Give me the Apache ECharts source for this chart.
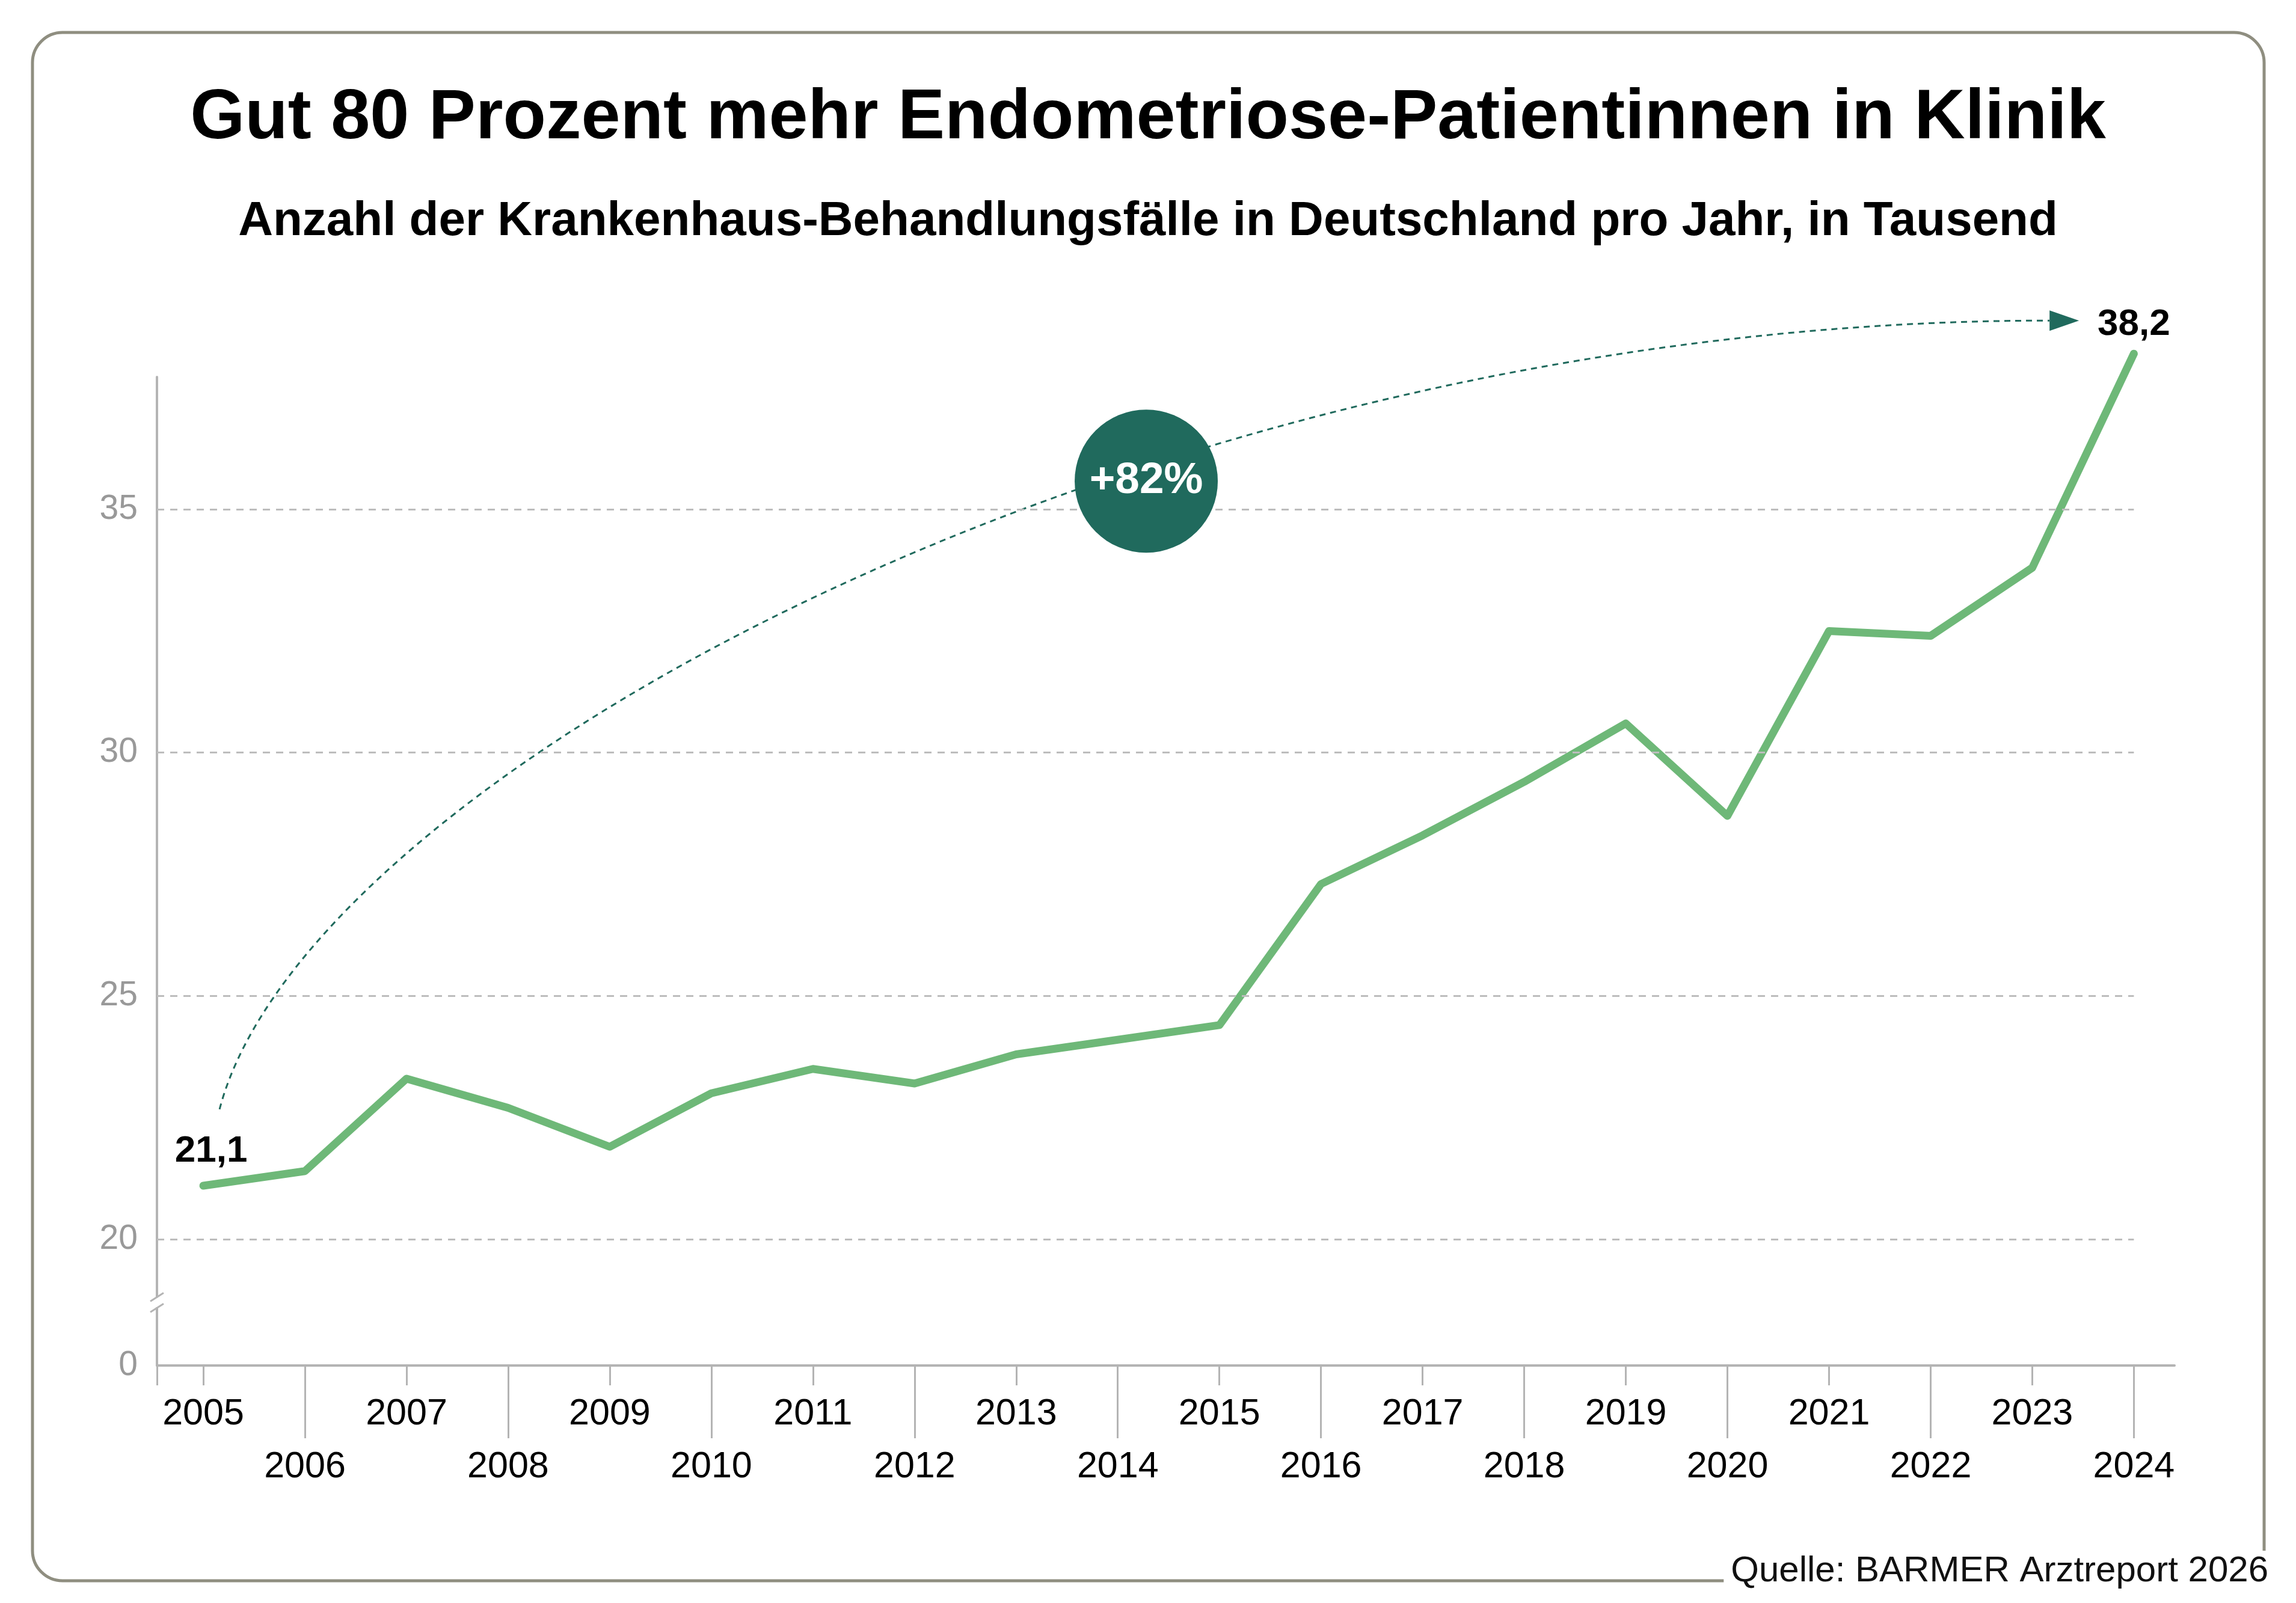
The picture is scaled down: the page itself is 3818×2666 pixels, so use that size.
<!DOCTYPE html>
<html>
<head>
<meta charset="utf-8">
<title>Endometriose-Patientinnen in Klinik</title>
<script src="https://cdn.jsdelivr.net/npm/echarts@6.0.0/dist/echarts.min.js"></script>
<style>
html, body { margin: 0; padding: 0; background: #fff; }
#chart { width: 3818px; height: 2666px; }
</style>
</head>
<body>
<div id="chart"></div>
<script>
// Daten (Tausend Behandlungsfälle)
var years = [2005, 2006, 2007, 2008, 2009, 2010, 2011, 2012, 2013, 2014,
             2015, 2016, 2017, 2018, 2019, 2020, 2021, 2022, 2023, 2024];
var cases = [21.1, 21.4, 23.3, 22.7, 21.9, 23.0, 23.5, 23.2, 23.8, 24.1,
             24.4, 27.3, 28.3, 29.4, 30.6, 28.7, 32.5, 32.4, 33.8, 38.2];
var yTicks = [20, 25, 30, 35];
var badgeText = '+82%';

var titleText = 'Gut 80 Prozent mehr Endometriose-Patientinnen in Klinik';
var subText = 'Anzahl der Krankenhaus-Behandlungsfälle in Deutschland pro Jahr, in Tausend';
var sourceText = 'Quelle: BARMER Arztreport 2026';

var FONT = '"Liberation Sans", Arial, Helvetica, sans-serif';
var GREEN = '#6eb878';
var TEAL = '#206a5d';
var AXIS = '#b4b4b4';

// Achsenbereich (y-Achse ist unterbrochen: unten steht die 0)
var xMin = 2004.544, xMax = 2024.4;
var yMin = 17.405, yMax = 37.72;
var breakAt = 18.7;

var oddYears = years.filter(function (y) { return y % 2 === 1; });
var evenYears = years.filter(function (y) { return y % 2 === 0; });

function fmt(v) { return String(v).replace('.', ','); }

var seriesData = years.map(function (y, i) {
  var item = { value: [y, cases[i]] };
  if (i === 0) {
    item.label = { show: true, position: 'top', distance: 26, offset: [13, 0] };
  } else if (i === years.length - 1) {
    item.label = { show: true, position: 'top', distance: 17 };
  }
  return item;
});

var gridLines = yTicks.map(function (v) {
  return [{ coord: [xMin, v] }, { coord: [years[years.length - 1], v] }];
});

var chart = echarts.init(document.getElementById('chart'));

var option = {
  backgroundColor: '#fff',
  animation: false,
  title: [
    {
      text: titleText, left: 'center', top: 134,
      textStyle: { fontFamily: FONT, fontSize: 117, fontWeight: 'bold', color: '#000' }
    },
    {
      text: subText, left: 'center', top: 324,
      textStyle: { fontFamily: FONT, fontSize: 80, fontWeight: 'bold', color: '#000' }
    }
  ],
  grid: { left: 261, right: 202, top: 627, bottom: 395 },
  xAxis: [
    {
      type: 'value', min: xMin, max: xMax, position: 'bottom',
      axisLine: { show: true, onZero: false, lineStyle: { color: AXIS, width: 4 } },
      axisTick: { show: true, length: 33, customValues: [xMin].concat(oddYears),
                  lineStyle: { color: AXIS, width: 3 } },
      axisLabel: { customValues: oddYears, margin: 51, color: '#000',
                   fontFamily: FONT, fontSize: 61, formatter: function (v) { return String(v); } },
      splitLine: { show: false }
    },
    {
      type: 'value', min: xMin, max: xMax, position: 'bottom',
      axisLine: { show: false, onZero: false },
      axisTick: { show: true, length: 121, customValues: evenYears,
                  lineStyle: { color: AXIS, width: 3 } },
      axisLabel: { customValues: evenYears, margin: 139, color: '#000',
                   fontFamily: FONT, fontSize: 61, formatter: function (v) { return String(v); } },
      splitLine: { show: false }
    }
  ],
  yAxis: {
    type: 'value', min: yMin, max: yMax,
    axisLine: { show: true, onZero: false, lineStyle: { color: AXIS, width: 4 } },
    axisTick: { show: false },
    axisLabel: {
      customValues: [yMin].concat(yTicks), margin: 32, color: '#999',
      fontFamily: FONT, fontSize: 57,
      formatter: function (v) { return v < 19 ? '0' : String(Math.round(v)); }
    },
    splitLine: { show: false }
  },
  series: [
    {
      // Hilfslinien
      type: 'line', data: [], z: 1, silent: true,
      markLine: {
        silent: true, symbol: ['none', 'none'], label: { show: false },
        lineStyle: { color: '#bdbdbd', width: 3, type: [12, 10] },
        data: gridLines
      }
    },
    {
      type: 'line', z: 3, clip: false,
      data: seriesData,
      showSymbol: true, symbol: 'circle', symbolSize: 1,
      itemStyle: { color: GREEN },
      lineStyle: { color: GREEN, width: 13, cap: 'round', join: 'round' },
      label: {
        show: false, color: '#000', fontFamily: FONT, fontSize: 62, fontWeight: 'bold',
        formatter: function (p) { return fmt(p.value[1]); }
      },
      markPoint: {
        silent: true, symbol: 'circle', symbolSize: 238,
        itemStyle: { color: TEAL },
        label: { show: true, color: '#fff', fontFamily: FONT, fontSize: 73, fontWeight: 'bold',
                 formatter: badgeText },
        data: [{ coord: [2014.28, 35.58] }]
      }
    }
  ]
};

chart.setOption(option);

// Pfeil, Achsenbruch, Rahmen und Quelle
function px(x, y) { return chart.convertToPixel({ gridIndex: 0 }, [x, y]); }
var p0 = px(2005.16, 22.67), p1 = px(2006.01, 29.49);
var p2 = px(2014.29, 38.88), p3 = px(2023.17, 38.88);
var tip = px(2023.46, 38.88);
var bk = px(xMin, breakAt);

chart.setOption({
  graphic: [
    {
      type: 'rect', z: -10, silent: true,
      shape: { x: 54, y: 54, width: 3711, height: 2575, r: 50 },
      style: { fill: 'none', stroke: '#8f8e80', lineWidth: 5 }
    },
    {
      type: 'bezierCurve', z: 1, silent: true,
      shape: { x1: p0[0], y1: p0[1], cpx1: p1[0], cpy1: p1[1],
               cpx2: p2[0], cpy2: p2[1], x2: p3[0], y2: p3[1] },
      style: { fill: 'none', stroke: TEAL, lineWidth: 3, lineDash: [10, 8] }
    },
    {
      type: 'polygon', z: 1, silent: true,
      shape: { points: [[tip[0], tip[1]], [p3[0], p3[1] - 17], [p3[0], p3[1] + 17]] },
      style: { fill: TEAL }
    },
    {
      type: 'rect', z: 10, silent: true,
      shape: { x: bk[0] - 8, y: bk[1] - 8, width: 16, height: 16 },
      style: { fill: '#fff' }
    },
    {
      type: 'line', z: 11, silent: true,
      shape: { x1: bk[0] - 11, y1: bk[1] - 2, x2: bk[0] + 11, y2: bk[1] - 16 },
      style: { stroke: AXIS, lineWidth: 3 }
    },
    {
      type: 'line', z: 11, silent: true,
      shape: { x1: bk[0] - 11, y1: bk[1] + 16, x2: bk[0] + 11, y2: bk[1] + 2 },
      style: { stroke: AXIS, lineWidth: 3 }
    },
    {
      type: 'text', z: 20, silent: true,
      x: 3772, y: 2613,
      style: { text: sourceText, font: '60px ' + FONT, fill: '#111',
               align: 'right', verticalAlign: 'middle',
               backgroundColor: '#fff', padding: [4, 0, 4, 12] }
    }
  ]
});
</script>
</body>
</html>
